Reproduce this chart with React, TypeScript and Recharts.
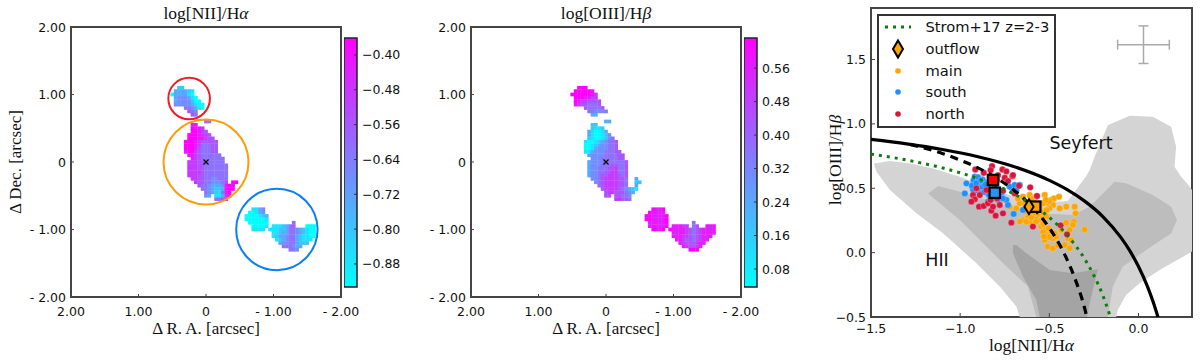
import {
  ScatterChart,
  Scatter,
  XAxis,
  YAxis,
  ReferenceDot,
  ReferenceArea,
  ErrorBar,
} from "recharts";

// colour levels: 0 = cyan ... 9 = magenta, one tuple per row of the map: [row, first column, levels]
type Row = [number, number, string];

const NII_ROWS: Row[] = [
  [-22, -8, "22"], [-21, -9, "333321"], [-20, -10, "0333310"], [-19, -9, "3444310"],
  [-18, -9, "34444200"], [-17, -9, "444443100"], [-16, -6, "554310"], [-15, -5, "654"],
  [-14, -4, "65"], [-12, 0, "55"],
  [-11, -4, "88"], [-10, -4, "9887"], [-9, -4, "99876"], [-8, -5, "9998776"],
  [-7, -5, "99988766"], [-6, -6, "9998766666"], [-5, -6, "9998755566"], [-4, -6, "9998655566"],
  [-3, -6, "8997655566"], [-2, -5, "8876555555"], [-1, -4, "8765555555"], [0, -5, "77766555555"],
  [1, -5, "777665555555"], [2, -5, "777665555555"], [3, -5, "777765555555"], [4, -5, "777665555555"],
  [5, -4, "77665544555"], [6, -3, "7665544456"], [6, 8, "99"], [7, -2, "65543334899"],
  [8, -1, "5543223899"], [9, 0, "54321589"], [10, 0, "43"], [10, 3, "11378"], [11, 3, "5567"],
  [14, 14, "1134"], [15, 13, "00134"], [16, 12, "0000123"], [17, 12, "0000001"],
  [18, 13, "000000"], [19, 14, "00001"], [20, 14, "1111"],
  [18, 26, "5"], [19, 20, "1112"], [19, 24, "356"], [19, 30, "000"],
  [20, 19, "11122355432100"], [21, 20, "1123355432100"], [22, 20, "1233455321100"],
  [23, 21, "12345532111"], [24, 22, "344553222"], [25, 23, "555433"], [26, 25, "554"],
];

const OIII_ROWS: Row[] = [
  [-22, -8, "999"], [-21, -9, "999998"], [-20, -10, "99999987"], [-19, -9, "9998877"],
  [-18, -9, "98776666"], [-17, -9, "87665556"], [-16, -6, "655556"], [-15, -5, "554445"],
  [-14, -4, "33"], [-12, 0, "33"],
  [-11, -4, "22"], [-10, -4, "2112"], [-9, -5, "310013"], [-8, -5, "3100124"],
  [-7, -5, "21001245"], [-6, -6, "1001234556"], [-5, -6, "0012344556"], [-4, -6, "0013444556"],
  [-3, -6, "11344455566"], [-2, -5, "34444555566"], [-1, -4, "4445555566"], [0, -5, "344455555556"],
  [1, -5, "344455566556"], [2, -5, "344555667556"], [3, -5, "344556677556"], [4, -5, "344566777656"],
  [5, -4, "44567777665"], [5, 9, "3"], [6, -3, "4567777665"], [6, 9, "22"], [7, -2, "567777665"],
  [7, 9, "3"], [8, -1, "67777654321"], [9, 0, "677666543"], [10, 0, "66"], [10, 3, "66554"], [11, 3, "77665"],
  [14, 14, "9889"], [15, 13, "98888"], [16, 12, "9988889"], [17, 12, "9988889"],
  [18, 13, "888889"], [19, 13, "888889"], [20, 14, "9889"],
  [18, 26, "5"], [19, 20, "88877"], [19, 26, "56"], [19, 30, "888"],
  [20, 19, "98888765678888"], [21, 20, "8888765678888"], [22, 20, "888776567888"],
  [23, 21, "8876656788"], [24, 22, "87666788"], [25, 23, "876678"], [26, 25, "999"],
];

const NII_TICKS = [-0.88, -0.8, -0.72, -0.64, -0.56, -0.48, -0.4];
const OIII_TICKS = [0.08, 0.16, 0.24, 0.32, 0.4, 0.48, 0.56];

const ARC_TICKS = [2, 1, 0, -1, -2];
const BPT_X_TICKS = [-1.5, -1, -0.5, 0];
const BPT_Y_TICKS = [-0.5, 0, 0.5, 1, 1.5];

const CIRCLES = [
  { x: 0.25, y: 0.94, r: 20.8, color: "#ee1c25" },
  { x: 0, y: 0, r: 42.5, color: "#ff9c0a" },
  { x: -1.05, y: -1.0, r: 40.7, color: "#0a7ff5" },
];

const CENTRE = [{ x: 0, y: 0 }];

// BPT panel
const LIGHT_REGION = [
  [-1.484, 0.693], [-1.394, 0.711], [-1.282, 0.693], [-1.152, 0.654], [-1.002, 0.589], [-0.816, 0.486],
  [-0.629, 0.409], [-0.442, 0.396], [-0.396, 0.403], [-0.358, 0.473], [-0.293, 0.595], [-0.274, 0.641],
  [-0.246, 0.745], [-0.172, 0.99], [-0.05, 1.063], [0.08, 1.055], [0.183, 0.977], [0.211, 0.822],
  [0.202, 0.667], [0.239, 0.59], [0.272, 0.538], [0.3, 0.486], [0.3, 0.008], [0.267, -0.018],
  [0.118, -0.134], [0.006, -0.237], [-0.069, -0.328], [-0.116, -0.444], [-0.125, -0.5], [-0.666, -0.5],
  [-0.685, -0.419], [-0.778, -0.263], [-0.909, -0.082], [-1.096, 0.15], [-1.245, 0.305], [-1.394, 0.486],
  [-1.469, 0.628],
];
const MID_REGION = [
  [-1.18, 0.46], [-1.124, 0.517], [-0.965, 0.46], [-0.76, 0.37], [-0.554, 0.305], [-0.368, 0.292],
  [-0.274, 0.357], [-0.2, 0.46], [-0.134, 0.551], [-0.069, 0.538], [0.08, 0.447], [0.183, 0.357],
  [0.216, 0.254], [0.183, 0.15], [0.043, 0.021], [-0.088, -0.108], [-0.144, -0.263], [-0.172, -0.5],
  [-0.573, -0.5], [-0.62, -0.263], [-0.741, -0.108], [-0.853, 0.047], [-1.002, 0.254],
];
const DARK_REGION = [
  [-0.704, 0.06], [-0.685, 0.06], [-0.629, -0.005], [-0.498, -0.134], [-0.368, -0.16], [-0.228, -0.129],
  [-0.265, -0.341], [-0.289, -0.5], [-0.554, -0.5], [-0.573, -0.367], [-0.648, -0.186], [-0.704, -0.005],
];

const SOLID_CURVE = [
  [-1.5, 0.88], [-1.3, 0.845], [-1.1, 0.801], [-0.9, 0.745], [-0.7, 0.669], [-0.5, 0.561], [-0.4, 0.489],
  [-0.3, 0.398], [-0.2, 0.28], [-0.1, 0.12], [-0.05, 0.017], [0, -0.108], [0.05, -0.262], [0.08, -0.374], [0.11, -0.504],
];
const DASHED_CURVE = [
  [-1.28, 0.841], [-1.1, 0.77], [-1.0, 0.719], [-0.9, 0.658], [-0.8, 0.582], [-0.7, 0.487], [-0.6, 0.362],
  [-0.5, 0.191], [-0.45, 0.08], [-0.4, -0.056], [-0.35, -0.225], [-0.3, -0.443], [-0.29, -0.5],
];
const STROM_CURVE = [
  [-1.5, 0.765], [-1.3, 0.719], [-1.1, 0.658], [-0.9, 0.575], [-0.7, 0.457], [-0.6, 0.376], [-0.5, 0.273],
  [-0.4, 0.136], [-0.3, -0.053], [-0.25, -0.178], [-0.2, -0.332], [-0.16, -0.49],
];

const MAIN_POINTS = [
  [-0.75, 0.409], [-0.722, 0.357], [-0.685, 0.344], [-0.666, 0.383], [-0.676, 0.421], [-0.648, 0.434],
  [-0.61, 0.447], [-0.592, 0.421], [-0.573, 0.434], [-0.526, 0.447], [-0.507, 0.383], [-0.489, 0.409],
  [-0.474, 0.421], [-0.446, 0.434], [-0.48, 0.37], [-0.5, 0.344], [-0.526, 0.318], [-0.545, 0.292],
  [-0.517, 0.279], [-0.564, 0.253], [-0.592, 0.253], [-0.62, 0.279], [-0.648, 0.253], [-0.666, 0.241],
  [-0.629, 0.318], [-0.601, 0.305], [-0.573, 0.318], [-0.582, 0.357], [-0.61, 0.331], [-0.554, 0.344],
  [-0.535, 0.383], [-0.638, 0.383], [-0.545, 0.202], [-0.526, 0.176], [-0.517, 0.137], [-0.526, 0.099],
  [-0.489, 0.163], [-0.48, 0.111], [-0.461, 0.124], [-0.508, 0.047], [-0.48, 0.034], [-0.452, 0.06],
  [-0.414, 0.06], [-0.386, 0.034], [-0.396, 0.111], [-0.405, 0.357], [-0.358, 0.357], [-0.353, 0.305],
  [-0.405, 0.233], [-0.362, 0.24], [-0.368, 0.215], [-0.433, 0.176], [-0.302, 0.18], [-0.386, 0.176],
  [-0.442, 0.344], [-0.377, 0.098], [-0.573, 0.279], [-0.545, 0.253], [-0.61, 0.24], [-0.629, 0.24],
  [-0.59, 0.3], [-0.56, 0.3], [-0.535, 0.27], [-0.6, 0.27], [-0.575, 0.24], [-0.555, 0.33],
  [-0.535, 0.31], [-0.515, 0.33], [-0.5, 0.4], [-0.52, 0.41], [-0.535, 0.22], [-0.535, 0.16],
  [-0.505, 0.19], [-0.5, 0.12], [-0.53, 0.125], [-0.47, 0.15],
];
const SOUTH_POINTS = [
  [-0.965, 0.538], [-0.974, 0.46], [-0.918, 0.589], [-0.905, 0.564], [-0.89, 0.543], [-0.918, 0.525],
  [-0.9, 0.512], [-0.881, 0.525], [-0.868, 0.55], [-0.909, 0.486], [-0.887, 0.486], [-0.857, 0.486],
  [-0.875, 0.568], [-0.928, 0.491], [-0.844, 0.396], [-0.816, 0.421], [-0.788, 0.409], [-0.769, 0.46],
  [-0.741, 0.409], [-0.722, 0.512], [-0.704, 0.473], [-0.694, 0.525], [-0.666, 0.525], [-0.685, 0.486],
  [-0.7, 0.3], [-0.648, 0.331], [-0.732, 0.37], [-0.76, 0.421], [-0.806, 0.525], [-0.847, 0.525],
  [-0.925, 0.56], [-0.9, 0.585], [-0.935, 0.52], [-0.895, 0.53], [-0.9, 0.5], [-0.875, 0.51],
  [-0.865, 0.47], [-0.84, 0.45], [-0.86, 0.53], [-0.825, 0.48], [-0.885, 0.56], [-0.91, 0.54],
];
const NORTH_POINTS = [
  [-0.915, 0.646], [-0.868, 0.62], [-0.821, 0.672], [-0.829, 0.641], [-0.763, 0.646], [-0.741, 0.631],
  [-0.707, 0.594], [-0.75, 0.581], [-0.788, 0.602], [-0.704, 0.602], [-0.793, 0.564], [-0.732, 0.556],
  [-0.607, 0.507], [-0.569, 0.44], [-0.67, 0.52], [-0.928, 0.447], [-0.918, 0.414], [-0.937, 0.396],
  [-0.894, 0.357], [-0.868, 0.362], [-0.844, 0.383], [-0.825, 0.326], [-0.801, 0.287], [-0.76, 0.305],
  [-0.713, 0.233], [-0.592, 0.202], [-0.437, 0.212], [-0.401, 0.142], [-0.816, 0.357], [-0.793, 0.421],
  [-0.76, 0.481], [-0.89, 0.447], [-0.778, 0.37], [-0.853, 0.486], [-0.83, 0.409], [-0.694, 0.46], [-0.909, 0.5],
];

const SQUARES = [
  { x: -0.579, y: 0.357, color: "#ffa500" },
  { x: -0.806, y: 0.465, color: "#2b93ef" },
  { x: -0.816, y: 0.564, color: "#ff0000" },
];
const OUTFLOW = [{ x: -0.614, y: 0.357 }];
const ERROR_CROSS = [{ x: 0.028, y: 1.615, ex: 0.145, ey: 0.146 }];

const LEGEND_LABELS = ["Strom+17 z=2-3", "outflow", "main", "south", "north"];

const SANS = "'DejaVu Sans', sans-serif";
const SERIF = "'Liberation Serif', serif";
const FRAME = "#444444";

const toXY = (pts: number[][]) => pts.map(([x, y]) => ({ x, y }));

const coolColor = (level: number) => {
  const t = level / 9;
  return `rgb(${Math.round(t * 255)},${Math.round((1 - t) * 255)},255)`;
};

// rows and columns of the map are 0.05 arcsec wide, east to the left
const toCells = (rows: Row[]) =>
  rows.flatMap(([row, col, levels]) =>
    levels.split("").map((ch, i) => ({
      x: -(col + i) * 0.05,
      y: -row * 0.05,
      level: Number(ch),
    }))
  );

const CellShape = (p: any) => (
  <rect
    x={p.cx - 1.85}
    y={p.cy - 1.85}
    width={3.7}
    height={3.7}
    fill={coolColor(p.payload.level)}
  />
);

const CrossShape = (p: any) => (
  <path
    d={`M${p.cx - 2.5} ${p.cy - 2.5}L${p.cx + 2.5} ${p.cy + 2.5}M${p.cx - 2.5} ${p.cy + 2.5}L${p.cx + 2.5} ${p.cy - 2.5}`}
    stroke="#000"
    strokeWidth={1.3}
  />
);

const dotShape = (color: string) => (p: any) => (
  <circle cx={p.cx} cy={p.cy} r={3.2} fill={color} stroke="#e8e8e8" strokeWidth={0.3} />
);

const SquareShape = (p: any) => (
  <rect
    x={p.cx - 5.2}
    y={p.cy - 5.2}
    width={10.4}
    height={10.4}
    fill={p.payload.color}
    stroke="#000"
    strokeWidth={2.2}
  />
);

const DiamondShape = (p: any) => (
  <path
    d={`M${p.cx} ${p.cy - 7.5}L${p.cx + 4.6} ${p.cy}L${p.cx} ${p.cy + 7.5}L${p.cx - 4.6} ${p.cy}Z`}
    fill="#ffa500"
    stroke="#000"
    strokeWidth={2}
  />
);

const NoShape = () => null;

const arcLabel = (v: number) =>
  v === 0 ? "0" : v < 0 ? `- ${Math.abs(v).toFixed(2)}` : v.toFixed(2);
const bptLabel = (v: number) => (v < 0 ? `\u2212${Math.abs(v).toFixed(1)}` : v.toFixed(1));

// matplotlib style: ticks point into the frame, recharts only gives them going out
const inTick =
  (
    side: "left" | "right" | "top" | "bottom",
    format?: (v: number) => string,
    len = 3,
    fs = 12.5,
    below = 19
  ) =>
  (p: any) => {
    const { x, y, payload } = p;
    const dx = side === "left" ? len : side === "right" ? -len : 0;
    const dy = side === "top" ? len : side === "bottom" ? -len : 0;
    return (
      <g>
        <line x1={x} y1={y} x2={x + dx} y2={y + dy} stroke={FRAME} strokeWidth={1} />
        {format && (
          <text
            x={side === "left" ? x - 5 : side === "right" ? x + 5 : x}
            y={side === "bottom" ? y + below : y + 4.5}
            textAnchor={side === "left" ? "end" : side === "right" ? "start" : "middle"}
            fontFamily={SANS}
            fontSize={fs}
            fill="#111"
          >
            {format(payload.value)}
          </text>
        )}
      </g>
    );
  };

const axisStyle = {
  type: "number" as const,
  tickSize: 0,
  tickMargin: 0,
  tickLine: false,
  interval: 0 as const,
  allowDataOverflow: true,
  axisLine: false,
};

const MathLabel = ({
  x,
  y,
  head,
  tail,
  rotate,
  size = 17.5,
}: {
  x: number;
  y: number;
  head: string;
  tail: string;
  rotate?: boolean;
  size?: number;
}) => (
  <text
    x={x}
    y={y}
    textAnchor="middle"
    fontFamily={SERIF}
    fontSize={size}
    fill="#111"
    transform={rotate ? `rotate(-90 ${x} ${y})` : undefined}
  >
    {head}
    <tspan fontStyle="italic">{tail}</tspan>
  </text>
);

function MapPanel({
  left,
  rows,
  title,
  withYTitle,
}: {
  left: number;
  rows: Row[];
  title: [string, string];
  withYTitle?: boolean;
}) {
  const plotLeft = 71;
  const plotSize = 270;
  return (
    <div style={{ position: "absolute", left, top: 0 }}>
      <ScatterChart
        width={plotLeft + plotSize + 36}
        height={364}
        margin={{ top: 27, bottom: 37, left: 0, right: 36 }}
      >
        <XAxis
          {...axisStyle}
          dataKey="x"
          domain={[-2, 2]}
          reversed
          ticks={ARC_TICKS}
          height={30}
          tick={inTick("bottom", arcLabel)}
        />
        <XAxis
          {...axisStyle}
          xAxisId="top"
          orientation="top"
          domain={[-2, 2]}
          reversed
          ticks={ARC_TICKS}
          height={0}
          tick={inTick("top")}
        />
        <YAxis
          {...axisStyle}
          dataKey="y"
          domain={[-2, 2]}
          ticks={ARC_TICKS}
          width={plotLeft}
          tick={inTick("left", arcLabel)}
        />
        <YAxis
          {...axisStyle}
          yAxisId="right"
          orientation="right"
          domain={[-2, 2]}
          ticks={ARC_TICKS}
          width={0}
          tick={inTick("right")}
        />
        <Scatter data={toCells(rows)} shape={CellShape} isAnimationActive={false} />
        <Scatter data={CENTRE} shape={CrossShape} isAnimationActive={false} />
        {withYTitle &&
          CIRCLES.map((c) => (
            <ReferenceDot
              key={c.color}
              x={c.x}
              y={c.y}
              r={c.r}
              fill="none"
              stroke={c.color}
              strokeWidth={2}
              ifOverflow="visible"
            />
          ))}
        <ReferenceArea
          x1={-2}
          x2={2}
          y1={-2}
          y2={2}
          fill="none"
          stroke={FRAME}
          strokeWidth={2}
          ifOverflow="visible"
        />
        <MathLabel x={plotLeft + plotSize / 2} y={19} head={title[0]} tail={title[1]} />
        <text
          x={plotLeft + plotSize / 2}
          y={334}
          textAnchor="middle"
          fontFamily={SERIF}
          fontSize={17}
          fill="#111"
        >
          {"\u0394 R. A. [arcsec]"}
        </text>
        {withYTitle && (
          <text
            x={21}
            y={162}
            textAnchor="middle"
            fontFamily={SERIF}
            fontSize={17}
            fill="#111"
            transform="rotate(-90 21 162)"
          >
            {"\u0394 Dec. [arcsec]"}
          </text>
        )}
      </ScatterChart>
    </div>
  );
}

function Colorbar({
  id,
  left,
  domain,
  ticks,
}: {
  id: string;
  left: number;
  domain: [number, number];
  ticks: number[];
}) {
  return (
    <div style={{ position: "absolute", left, top: 0 }}>
      <ScatterChart
        width={60}
        height={364}
        margin={{ top: 38, bottom: 77, left: 0, right: 0 }}
      >
        <defs>
          <linearGradient id={id} x1="0" y1="1" x2="0" y2="0">
            <stop offset="0" stopColor="#00ffff" />
            <stop offset="1" stopColor="#ff00ff" />
          </linearGradient>
        </defs>
        <XAxis type="number" dataKey="x" domain={[0, 1]} hide />
        <YAxis
          {...axisStyle}
          dataKey="y"
          orientation="right"
          domain={domain}
          ticks={ticks}
          width={47}
          tick={(p: any) => inTick("right", (v) => (v < 0 ? `\u2212${Math.abs(v).toFixed(2)}` : v.toFixed(2)), 0, 12.5)(p)}
        />
        <ReferenceArea
          x1={0}
          x2={1}
          y1={domain[0]}
          y2={domain[1]}
          fill={`url(#${id})`}
          fillOpacity={1}
          stroke="#222"
          strokeWidth={1.5}
        />
        <Scatter
          data={ticks.map((t) => ({ x: 1, y: t }))}
          isAnimationActive={false}
          shape={(p: any) => <line x1={p.cx - 3} y1={p.cy} x2={p.cx} y2={p.cy} stroke="#333" />}
        />
      </ScatterChart>
    </div>
  );
}

const region = (pts: number[][], fill: string) => (
  <Scatter
    data={toXY([...pts, pts[0]])}
    shape={NoShape}
    line={{ fill, stroke: "none" } as any}
    lineType="joint"
    isAnimationActive={false}
  />
);

const curve = (pts: number[][], stroke: string, width: number, dash?: string) => (
  <Scatter
    data={toXY(pts)}
    shape={NoShape}
    line={{ stroke, strokeWidth: width, strokeDasharray: dash, fill: "none" } as any}
    lineType="joint"
    lineJointType="monotoneX"
    isAnimationActive={false}
  />
);

function BptPanel() {
  const plotLeft = 871;
  const plotWidth = 321;
  return (
    <div style={{ position: "absolute", left: 800, top: 0 }}>
      <ScatterChart
        width={400}
        height={364}
        margin={{ top: 8, bottom: 17, left: 0, right: 8 }}
      >
        <XAxis
          {...axisStyle}
          dataKey="x"
          domain={[-1.5, 0.3]}
          ticks={BPT_X_TICKS}
          height={30}
          tick={inTick("bottom", bptLabel, 4, 12.5, 16)}
        />
        <XAxis
          {...axisStyle}
          xAxisId="top"
          orientation="top"
          domain={[-1.5, 0.3]}
          ticks={BPT_X_TICKS}
          height={0}
          tick={inTick("top", undefined, 4)}
        />
        <YAxis
          {...axisStyle}
          dataKey="y"
          domain={[-0.5, 1.9]}
          ticks={BPT_Y_TICKS}
          width={plotLeft - 800}
          tick={inTick("left", bptLabel, 4, 12.5)}
        />
        <YAxis
          {...axisStyle}
          yAxisId="right"
          orientation="right"
          domain={[-0.5, 1.9]}
          ticks={BPT_Y_TICKS}
          width={0}
          tick={inTick("right", undefined, 4)}
        />
        {region(LIGHT_REGION, "#d4d4d4")}
        {region(MID_REGION, "#bdbdbd")}
        {region(DARK_REGION, "#a4a4a4")}
        {curve(SOLID_CURVE, "#000", 3.2)}
        <Scatter data={toXY(MAIN_POINTS)} shape={dotShape("#ffa500")} isAnimationActive={false} />
        <Scatter data={toXY(SOUTH_POINTS)} shape={dotShape("#1e8fff")} isAnimationActive={false} />
        <Scatter data={toXY(NORTH_POINTS)} shape={dotShape("#dc143c")} isAnimationActive={false} />
        {curve(DASHED_CURVE, "#000", 3.2, "8 6")}
        {curve(STROM_CURVE, "#0b7d0b", 3, "3 5")}
        <Scatter data={SQUARES} shape={SquareShape} isAnimationActive={false} />
        <Scatter data={OUTFLOW} shape={DiamondShape} isAnimationActive={false} />
        <Scatter data={ERROR_CROSS} shape={NoShape} isAnimationActive={false}>
          <ErrorBar dataKey="ex" direction="x" width={5} stroke="#aaaaaa" strokeWidth={1.5} />
          <ErrorBar dataKey="ey" direction="y" width={5} stroke="#aaaaaa" strokeWidth={1.5} />
        </Scatter>
        <ReferenceDot
          x={-0.322}
          y={0.85}
          r={0}
          label={{ value: "Seyfert", position: "center", fontSize: 17.5, fontFamily: SANS, fill: "#111" }}
        />
        <ReferenceDot
          x={-1.13}
          y={-0.055}
          r={0}
          label={{ value: "HII", position: "center", fontSize: 17.5, fontFamily: SANS, fill: "#111" }}
        />
        <ReferenceArea
          x1={-1.5}
          x2={0.3}
          y1={-0.5}
          y2={1.9}
          fill="none"
          stroke={FRAME}
          strokeWidth={2}
          ifOverflow="visible"
        />
        <MathLabel x={plotLeft - 800 + plotWidth / 2} y={351} head="log[NII]/H" tail={"\u03b1"} />
        <MathLabel x={41} y={160} head="log[OIII]/H" tail={"\u03b2"} rotate />
      </ScatterChart>
    </div>
  );
}

function LegendBox() {
  const rowTop = (i: number) => 11 + i * 21.8;
  const colors = ["", "", "#ffa500", "#1e8fff", "#dc143c"];
  return (
    <div
      style={{
        position: "absolute",
        left: 877,
        top: 14,
        width: 175,
        height: 110,
        border: "2px solid #333",
        background: "#fff",
        fontFamily: SANS,
        fontSize: 14.7,
        color: "#111",
      }}
    >
      {LEGEND_LABELS.map((label, i) => (
        <div key={label}>
          <svg
            width={40}
            height={22}
            style={{ position: "absolute", left: 0, top: rowTop(i) - 11 }}
          >
            {i === 0 && (
              <line x1={6} y1={11} x2={32} y2={11} stroke="#0b7d0b" strokeWidth={3} strokeDasharray="3 5" />
            )}
            {i === 1 && (
              <path d="M19 2.5L24 11L19 19.5L14 11Z" fill="#ffa500" stroke="#000" strokeWidth={2} />
            )}
            {i > 1 && <circle cx={19} cy={11} r={2.8} fill={colors[i]} />}
          </svg>
          <span
            style={{
              position: "absolute",
              left: 46.5,
              top: rowTop(i) - 10,
              lineHeight: "20px",
              whiteSpace: "nowrap",
            }}
          >
            {label}
          </span>
        </div>
      ))}
    </div>
  );
}

export default function App() {
  return (
    <div
      style={{
        position: "absolute",
        left: 0,
        top: 0,
        width: 1200,
        height: 364,
        overflow: "hidden",
        background: "#fff",
      }}
    >
      <MapPanel left={0} rows={NII_ROWS} title={["log[NII]/H", "\u03b1"]} withYTitle />
      <MapPanel left={400} rows={OIII_ROWS} title={["log[OIII]/H", "\u03b2"]} />
      <Colorbar id="cbar-nii" left={344} domain={[-0.933, -0.361]} ticks={NII_TICKS} />
      <Colorbar id="cbar-oiii" left={744} domain={[0.037, 0.632]} ticks={OIII_TICKS} />
      <BptPanel />
      <LegendBox />
    </div>
  );
}
